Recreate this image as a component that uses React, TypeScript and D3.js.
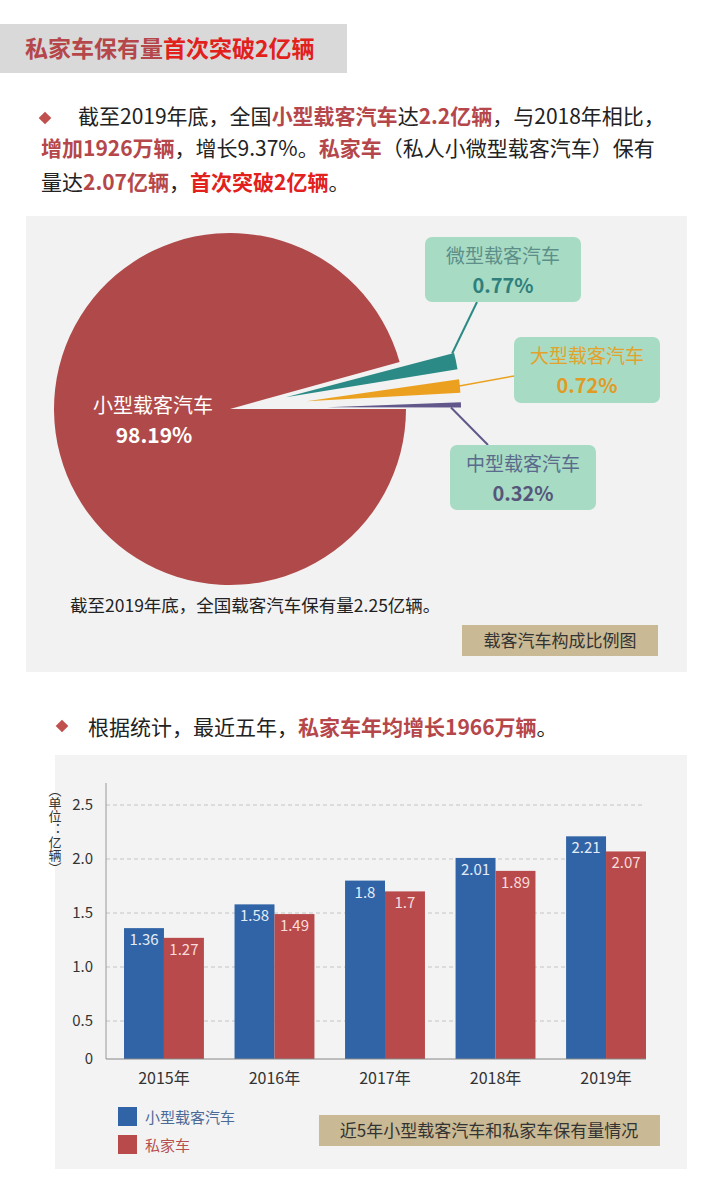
import React from 'react';
import * as d3 from 'd3';

// ---------- data ----------
const pieLabels = ['小型载客汽车', '微型载客汽车', '大型载客汽车', '中型载客汽车'];
const pieShares = [98.19, 0.77, 0.72, 0.32];

const years = ['2015年', '2016年', '2017年', '2018年', '2019年'];
const smallCarValues = [1.36, 1.58, 1.8, 2.01, 2.21];
const privateCarValues = [1.27, 1.49, 1.7, 1.89, 2.07];
const seriesNames = ['小型载客汽车', '私家车'];
const yTicks = [0, 0.5, 1, 1.5, 2, 2.5];

// ---------- style ----------
const FONT = '"Noto Sans CJK SC","Noto Sans",sans-serif';
const MUTED = '#b5474b';
const BRIGHT = '#e2201c';
const TEXT = '#222';
const BLUE = '#3164a6';
const RED = '#b84a4b';
const SMALL_COLORS = ['#2b8a85', '#eba11f', '#62578a'];
const NAME_COLORS = ['#5c8f88', '#e3a22c', '#5a6b8c'];
const PCT_COLORS = ['#2f7f7d', '#e09b25', '#56567a'];
const BOX_FILL = '#a7dbc4';
const KHAKI = '#c9b994';

type Seg = { t: string; k?: 'h' | 'b' };
const para1: Seg[][] = [
  [{ t: '截至2019年底，全国' }, { t: '小型载客汽车', k: 'h' }, { t: '达' }, { t: '2.2亿辆', k: 'h' }, { t: '，与2018年相比，' }],
  [{ t: '增加1926万辆', k: 'h' }, { t: '，增长9.37%。' }, { t: '私家车', k: 'h' }, { t: '（私人小微型载客汽车）保有' }],
  [{ t: '量达' }, { t: '2.07亿辆', k: 'h' }, { t: '，' }, { t: '首次突破2亿辆', k: 'b' }, { t: '。' }],
];
const para2: Seg[] = [{ t: '根据统计，最近五年，' }, { t: '私家车年均增长1966万辆', k: 'h' }, { t: '。' }];

const segFill = (s: Seg) => (s.k === 'h' ? MUTED : s.k === 'b' ? BRIGHT : TEXT);
const segWeight = (s: Seg) => (s.k ? 700 : 400);

function Line({ x, y, segs, size }: { x: number; y: number; segs: Seg[]; size: number }) {
  return (
    <text x={x} y={y} fontSize={size} fontFamily={FONT}>
      {segs.map((s, i) => (
        <tspan key={i} fill={segFill(s)} fontWeight={segWeight(s)}>{s.t}</tspan>
      ))}
    </text>
  );
}

function Diamond({ x, y, s }: { x: number; y: number; s: number }) {
  const p = d3.symbol(d3.symbolSquare, s)();
  return <path d={p || ''} transform={`translate(${x},${y}) rotate(45)`} fill="#c0504d" />;
}

export default function App() {
  // ---------- pie ----------
  const cx = 230, cy = 409, R = 176;
  const deg = Math.PI / 180;
  const GAP = 15.5 * deg;
  const mainSlice = d3.pie<number>().sort(null).startAngle(Math.PI / 2).endAngle(Math.PI / 2 + 2 * Math.PI - GAP)([pieShares[0]])[0];
  const arcGen = d3.arc<any>();
  const mainPath = arcGen({ innerRadius: 0, outerRadius: R, startAngle: mainSlice.startAngle, endAngle: mainSlice.endAngle }) || '';

  const smallVals = pieShares.slice(1);
  const smallSlices = d3.pie<number>().sort(null)
    .startAngle(Math.PI / 2 - 15.2 * deg).endAngle(Math.PI / 2 + 0.6 * deg)
    .padAngle(1.0 * deg)(smallVals);
  const REACH = 231;
  const explode = [57, 77, 97];
  const boxes = [
    { x: 425, y: 237, w: 156, h: 65, ax: 477, ay: 302 },
    { x: 514, y: 337, w: 146, h: 66, ax: 514, ay: 376 },
    { x: 450, y: 445, w: 146, h: 65, ax: 488, ay: 445 },
  ];
  const smallGeo = smallSlices.map((s, i) => {
    const mid = (s.startAngle + s.endAngle) / 2;
    const ox = cx + Math.sin(mid) * explode[i];
    const oy = cy - Math.cos(mid) * explode[i];
    const r = REACH - explode[i];
    const path = arcGen({ innerRadius: 0, outerRadius: r, startAngle: s.startAngle + s.padAngle / 2, endAngle: s.endAngle - s.padAngle / 2 }) || '';
    const a = i === 0 ? s.startAngle + s.padAngle / 2 : i === 1 ? mid : s.endAngle - s.padAngle / 2;
    const rr = i === 2 ? r - 10 : r - 2;
    const lx = ox + Math.sin(a) * rr;
    const ly = oy - Math.cos(a) * rr;
    return { ox, oy, path, lx, ly };
  });

  // ---------- bars ----------
  const x0 = d3.scaleBand<string>().domain(years).range([106, 664]).paddingInner(0.277).paddingOuter(0.163);
  const x1 = d3.scaleBand<string>().domain(seriesNames).range([0, x0.bandwidth()]);
  const y = d3.scaleLinear().domain([0, 0.5, 2.5]).range([1059, 1021, 805]);
  const series = [
    { name: seriesNames[0], values: smallCarValues, fill: BLUE, label: '#e3ecf7' },
    { name: seriesNames[1], values: privateCarValues, fill: RED, label: '#f8dcdc' },
  ];
  const fmt = (d: number) => (d === 0 ? '0' : d3.format('.1f')(d));

  return (
    <svg width={714} height={1203} style={{ position: 'absolute', left: 0, top: 0, background: '#fff' }} fontFamily={FONT}>
      <rect x={0} y={0} width={714} height={1203} fill="#fff" />
      {/* title */}
      <rect x={0} y={24} width={347} height={49} fill="#d9d9d9" />
      <text x={25} y={57} fontSize={23} fontWeight={700}>
        <tspan fill={MUTED}>私家车保有量</tspan>
        <tspan fill={BRIGHT}>首次突破2亿辆</tspan>
      </text>

      {/* paragraph 1 */}
      <Diamond x={45} y={118} s={80} />
      <Line x={78} y={124} segs={para1[0]} size={21} />
      <Line x={41} y={156} segs={para1[1]} size={21} />
      <Line x={41} y={190} segs={para1[2]} size={21} />

      {/* pie panel */}
      <rect x={26} y={216} width={661} height={456} fill="#f2f2f2" />
      <path d={mainPath} transform={`translate(${cx},${cy})`} fill="#b04a4a" />
      {smallGeo.map((g, i) => (
        <path key={i} d={g.path} transform={`translate(${g.ox},${g.oy})`} fill={SMALL_COLORS[i]} />
      ))}
      {smallGeo.map((g, i) => (
        <line key={'l' + i} x1={g.lx} y1={g.ly} x2={boxes[i].ax} y2={boxes[i].ay} stroke={SMALL_COLORS[i]} strokeWidth={i === 1 ? 1.5 : 2} />
      ))}
      {boxes.map((b, i) => (
        <g key={'b' + i}>
          <rect x={b.x} y={b.y} width={b.w} height={b.h} rx={7} fill={BOX_FILL} />
          <text x={b.x + b.w / 2} y={b.y + 26} textAnchor="middle" fontSize={19} fill={NAME_COLORS[i]}>{pieLabels[i + 1]}</text>
          <text x={b.x + b.w / 2} y={b.y + 56} textAnchor="middle" fontSize={20} fontWeight={700} fill={PCT_COLORS[i]}>{d3.format('.2f')(pieShares[i + 1])}%</text>
        </g>
      ))}
      <text x={153} y={413} textAnchor="middle" fontSize={20} fill="#fff">{pieLabels[0]}</text>
      <text x={154} y={443} textAnchor="middle" fontSize={21} fontWeight={700} fill="#fff">{d3.format('.2f')(pieShares[0])}%</text>
      <text x={70} y={612} fontSize={17.5} fill={TEXT}>截至2019年底，全国载客汽车保有量2.25亿辆。</text>
      <rect x={462} y={625} width={196} height={31} fill={KHAKI} />
      <text x={560} y={647} textAnchor="middle" fontSize={17} fill="#333">载客汽车构成比例图</text>

      {/* paragraph 2 */}
      <Diamond x={62} y={726} s={80} />
      <Line x={88} y={735} segs={para2} size={21} />

      {/* bar panel */}
      <rect x={55} y={755} width={632} height={414} fill="#f3f3f3" />
      {yTicks.filter(t => t > 0).map(t => (
        <line key={t} x1={106} x2={642} y1={y(t)} y2={y(t)} stroke="#c4c4c4" strokeDasharray="4,3" />
      ))}
      {yTicks.map(t => (
        <text key={'t' + t} x={93} y={y(t) + 5} textAnchor="end" fontSize={15} fill="#333">{fmt(t)}</text>
      ))}
      <line x1={106} x2={106} y1={783} y2={y(0)} stroke="#999" />
      <text x={55} y={784} fontSize={13} fill="#333" style={{ writingMode: 'vertical-rl' as any }}>（单位：亿辆）</text>
      {series.map(s => years.map((yr, i) => {
        const bx = (x0(yr) || 0) + (x1(s.name) || 0);
        const bw = x1.bandwidth();
        return (
          <g key={s.name + yr}>
            <rect x={bx} y={y(s.values[i])} width={bw} height={y(0) - y(s.values[i])} fill={s.fill} />
            <text x={bx + bw / 2} y={y(s.values[i]) + 17} textAnchor="middle" fontSize={15} fill={s.label}>{s.values[i]}</text>
          </g>
        );
      }))}
      <line x1={106} x2={646} y1={y(0)} y2={y(0)} stroke="#888" />
      {years.map(yr => (
        <text key={yr} x={(x0(yr) || 0) + x0.bandwidth() / 2} y={1084} textAnchor="middle" fontSize={16} fill="#333">{yr}</text>
      ))}
      {/* legend */}
      {series.map((s, i) => (
        <g key={'lg' + i}>
          <rect x={118} y={1107 + i * 28} width={19} height={19} fill={s.fill} />
          <text x={145} y={1123 + i * 28} fontSize={15} fill={i === 0 ? '#4b6a98' : '#b65050'}>{s.name}</text>
        </g>
      ))}
      <rect x={319} y={1115} width={341} height={31} fill={KHAKI} />
      <text x={489} y={1137} textAnchor="middle" fontSize={17} fill="#333">近5年小型载客汽车和私家车保有量情况</text>
    </svg>
  );
}
